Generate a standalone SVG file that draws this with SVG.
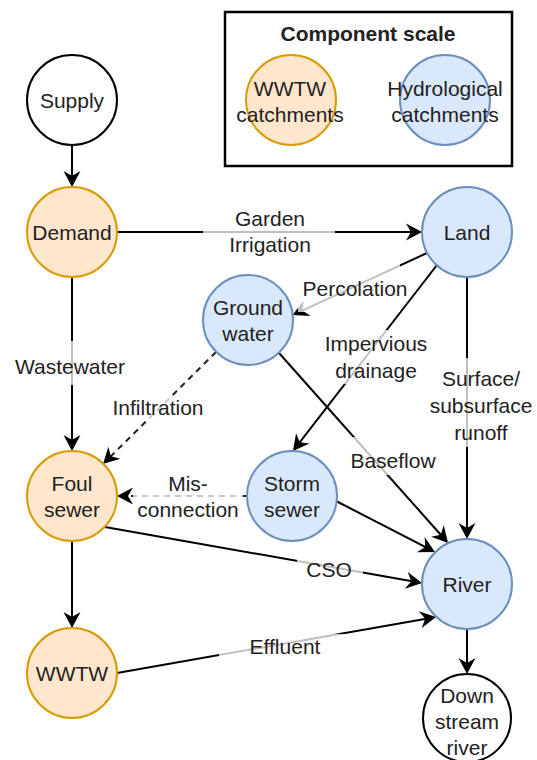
<svg xmlns="http://www.w3.org/2000/svg" width="537" height="760" viewBox="0 0 537 760">
  <defs>
    <style>
      text { font-family: "Liberation Sans", Arial, sans-serif; font-size: 21px; fill: #222; text-anchor: middle; dominant-baseline: central; }
      .title { font-weight: bold; }
      .orange { fill: #ffe6cc; stroke: #d79b00; stroke-width: 2; }
      .blue { fill: #dae8fc; stroke: #6c8ebf; stroke-width: 2; }
      .plain { fill: #ffffff; stroke: #000000; stroke-width: 2; }
      .edge { fill: none; stroke: #000000; stroke-width: 2; marker-end: url(#arrow); }
      .dashed { stroke: #222222; stroke-dasharray: 6 5; }
      .lblbg { fill: #ffffff; opacity: 0.75; }
    </style>
    <marker id="arrow" markerUnits="userSpaceOnUse" viewBox="-17 -10 20 20" markerWidth="20" markerHeight="20" refX="-10" refY="0" orient="auto">
      <path d="M0,0 L-16,-8.5 L-11,0 L-16,8.5 Z" fill="#000000"/>
    </marker>
  </defs>

  <rect width="537" height="760" fill="#ffffff"/>

  <!-- Legend -->
  <g id="legend">
    <rect x="225" y="12" width="287" height="154" fill="#ffffff" stroke="#000000" stroke-width="2.5"/>
    <text class="title" x="368" y="33">Component scale</text>
    <circle class="orange" cx="291" cy="100" r="45"/>
    <text x="290" y="88">WWTW</text>
    <text x="290" y="114">catchments</text>
    <circle class="blue" cx="445" cy="100" r="45"/>
    <text x="445" y="88">Hydrological</text>
    <text x="445" y="114">catchments</text>
  </g>

  <!-- Connectors with their labels -->
  <g id="connectors">
    <path class="edge" d="M72,145 L72,177"/>
    <path class="edge" d="M117,232 L412,232"/>
    <path class="edge" d="M72,277 L72,441"/>
    <path class="edge" d="M467,277 L467,529"/>
    <path class="edge" d="M427,253 L301.6,310.9"/>
    <path class="edge" d="M437,265 L299.1,443.1"/>
    <path class="edge" d="M279,353 L441.4,535.5"/>
    <path class="edge dashed" d="M216,352 L110.1,457"/>
    <path class="edge dashed" d="M247,496 L127,496"/>
    <path class="edge" d="M336,501 L426.1,547.4"/>
    <path class="edge" d="M105,527 L412.2,581.3"/>
    <path class="edge" d="M72,541 L72,618"/>
    <path class="edge" d="M117,673 L426.2,618.7"/>
    <path class="edge" d="M467,629 L467,664"/>

    <g id="label-garden">
      <rect class="lblbg" x="203" y="205" width="132" height="52"/>
      <text x="270" y="218">Garden</text>
      <text x="270" y="244">Irrigation</text>
    </g>
    <g id="label-wastewater">
      <rect class="lblbg" x="10" y="341" width="122" height="44"/>
      <text x="70" y="366">Wastewater</text>
    </g>
    <g id="label-percolation">
      <rect class="lblbg" x="298" y="262" width="102" height="50"/>
      <text x="355" y="288">Percolation</text>
    </g>
    <g id="label-impervious">
      <rect class="lblbg" x="323" y="330" width="107" height="54"/>
      <text x="376" y="343">Impervious</text>
      <text x="376" y="370">drainage</text>
    </g>
    <g id="label-runoff">
      <rect class="lblbg" x="426" y="358" width="110" height="89"/>
      <text x="481" y="378">Surface/</text>
      <text x="481" y="405">subsurface</text>
      <text x="481" y="432">runoff</text>
    </g>
    <g id="label-baseflow">
      <rect class="lblbg" x="346" y="437" width="94" height="38"/>
      <text x="393" y="460">Baseflow</text>
    </g>
    <g id="label-infiltration">
      <rect class="lblbg" x="110" y="396" width="97" height="24"/>
      <text x="158" y="407">Infiltration</text>
    </g>
    <g id="label-misconnection">
      <rect class="lblbg" x="133" y="470" width="110" height="52"/>
      <text x="188" y="483">Mis-</text>
      <text x="188" y="509">connection</text>
    </g>
    <g id="label-cso">
      <rect class="lblbg" x="297" y="557" width="66" height="24"/>
      <text x="329" y="569">CSO</text>
    </g>
    <g id="label-effluent">
      <rect class="lblbg" x="219" y="634" width="134" height="24"/>
      <text x="285" y="646">Effluent</text>
    </g>
  </g>

  <!-- Nodes -->
  <g id="supply">
    <circle class="plain" cx="72" cy="100" r="45"/>
    <text x="72" y="100">Supply</text>
  </g>
  <g id="demand">
    <circle class="orange" cx="72" cy="232" r="45"/>
    <text x="72" y="232">Demand</text>
  </g>
  <g id="land">
    <circle class="blue" cx="467" cy="232" r="45"/>
    <text x="467" y="232">Land</text>
  </g>
  <g id="groundwater">
    <circle class="blue" cx="248" cy="320" r="45"/>
    <text x="248" y="307">Ground</text>
    <text x="248" y="333">water</text>
  </g>
  <g id="foulsewer">
    <circle class="orange" cx="72" cy="496" r="45"/>
    <text x="72" y="483">Foul</text>
    <text x="72" y="509">sewer</text>
  </g>
  <g id="stormsewer">
    <circle class="blue" cx="292" cy="496" r="45"/>
    <text x="292" y="483">Storm</text>
    <text x="292" y="509">sewer</text>
  </g>
  <g id="river">
    <circle class="blue" cx="467" cy="584" r="45"/>
    <text x="467" y="584">River</text>
  </g>
  <g id="wwtw">
    <circle class="orange" cx="72" cy="673" r="45"/>
    <text x="72" y="673">WWTW</text>
  </g>
  <g id="downstream">
    <circle class="plain" cx="467" cy="718" r="44"/>
    <text x="467" y="695">Down</text>
    <text x="467" y="721">stream</text>
    <text x="467" y="747">river</text>
  </g>
</svg>
